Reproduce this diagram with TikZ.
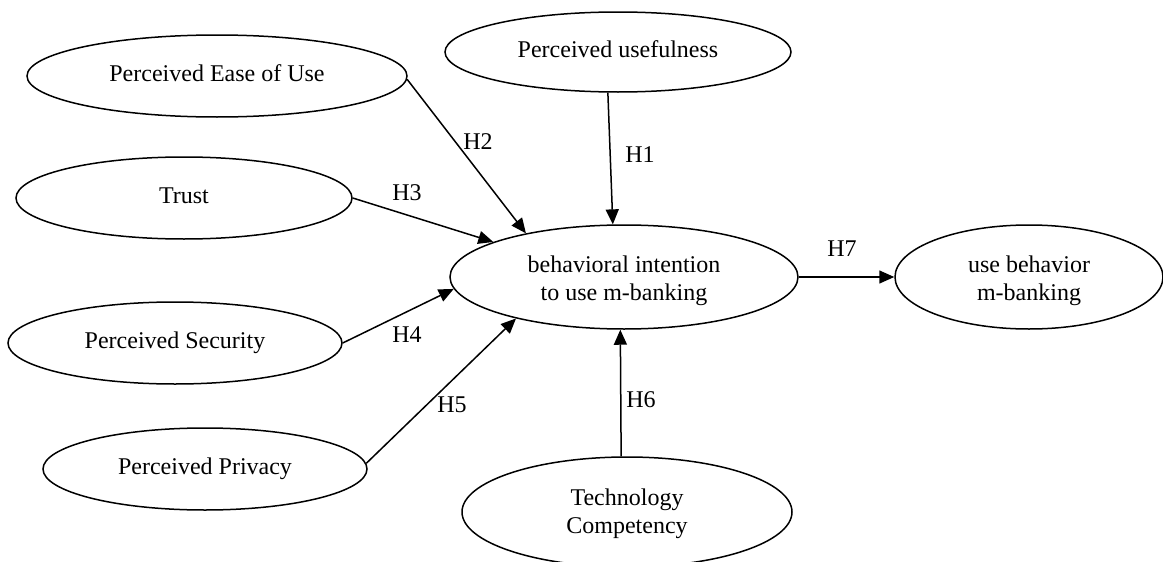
\documentclass[tikz,border=0pt]{standalone}
\usepackage{fontspec}
\setmainfont{Liberation Serif}
\usetikzlibrary{shapes.geometric,arrows.meta}
\tikzset{
  construct/.style={draw, ellipse, line width=1.5pt, inner sep=0pt, align=center,
    text height=16.4pt, text depth=5.2pt,
    font=\fontsize{24}{27.6}\selectfont},
  shell/.style={draw, ellipse, line width=1.5pt, inner sep=0pt},
  ctext/.style={inner sep=0pt, align=center, font=\fontsize{24}{27.6}\selectfont},
  hyp/.style={line width=1.5pt, -{Triangle[length=15pt,width=13pt]}},
  hlabel/.style={inner sep=0pt, font=\fontsize{24}{27.6}\selectfont}
}
\begin{document}
\begin{tikzpicture}[x=1pt,y=-1pt]
\useasboundingbox (0,0) rectangle (1163,562);
\node[construct, minimum width=380pt, minimum height=82pt] (peu) at (217,76) {Perceived Ease of Use};
\node[construct, minimum width=346pt, minimum height=80pt] (pu) at (618,52) {Perceived usefulness};
\node[construct, minimum width=336pt, minimum height=82pt] (trust) at (184,198) {Trust};
\node[shell, minimum width=348pt, minimum height=104pt] (bi) at (624,277) {};
\node[ctext] (bitext) at (624,281) {behavioral intention\\to use m-banking};
\node[shell, minimum width=268pt, minimum height=104pt] (ub) at (1029,277) {};
\node[ctext] (ubtext) at (1029,281) {use behavior\\m-banking};
\node[construct, minimum width=334pt, minimum height=82pt] (ps) at (175,343) {Perceived Security};
\node[construct, minimum width=324pt, minimum height=82pt] (pp) at (205,469) {Perceived Privacy};
\node[shell, minimum width=330pt, minimum height=110pt] (tc) at (627,512) {};
\node[ctext] (tctext) at (627,514) {Technology\\Competency};

\draw[hyp] (pu.256) -- (bi.102.5);
\draw[hyp] (peu.-1.2) -- (bi.156);
\draw[hyp] (trust.0) -- (bi.165.2);
\draw[hyp] (ps.0) -- (bi.184.4);
\draw[hyp] (pp.2.5) -- (bi.201);
\draw[hyp] (tc.96.3) -- (bi.266.8);
\draw[hyp] (bi.east) -- (ub.west);

\node[hlabel] (h1) at (640,155) {H1};
\node[hlabel] (h2) at (478,142) {H2};
\node[hlabel] (h3) at (407,193) {H3};
\node[hlabel] (h4) at (407,335) {H4};
\node[hlabel] (h5) at (452,405) {H5};
\node[hlabel] (h6) at (641,400) {H6};
\node[hlabel] (h7) at (842,249) {H7};
\end{tikzpicture}
\end{document}
